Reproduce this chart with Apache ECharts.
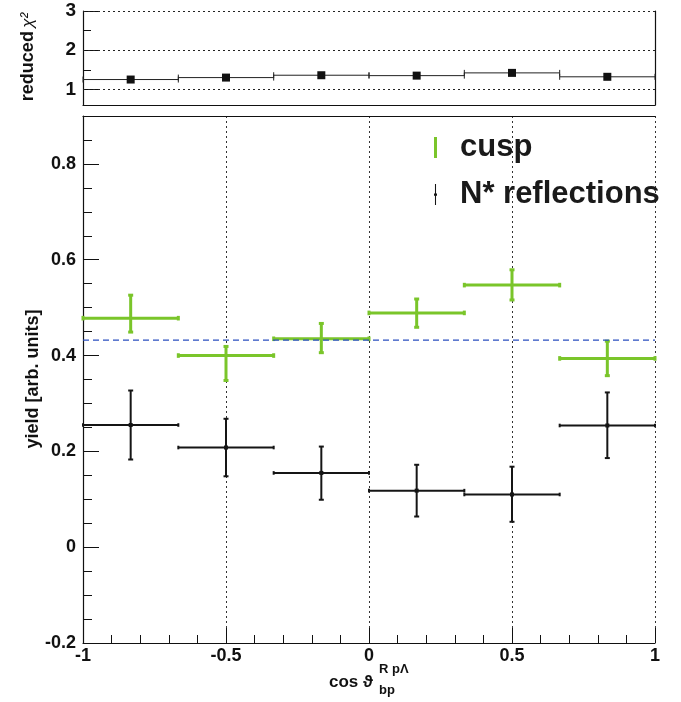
<!DOCTYPE html>
<html><head><meta charset="utf-8">
<script src="https://cdn.jsdelivr.net/npm/echarts@6/dist/echarts.min.js"></script>
<style>html,body{margin:0;padding:0;background:#fff}#c{width:681px;height:702px}</style>
</head><body><div id="c"></div>
<script>
// ---- data ----
const binLow = [-1, -0.6667, -0.3333, 0, 0.3333, 0.6667];
const binHigh = [-0.6667, -0.3333, 0, 0.3333, 0.6667, 1];
const binCenters = [-0.8333, -0.5, -0.1667, 0.1667, 0.5, 0.8333];
const chi2Values = [1.25, 1.30, 1.36, 1.35, 1.42, 1.32];
const cuspValues = [0.478, 0.400, 0.435, 0.489, 0.547, 0.394];
const cuspLow = [0.449, 0.348, 0.406, 0.459, 0.516, 0.358];
const cuspHigh = [0.526, 0.419, 0.467, 0.518, 0.579, 0.430];
const nstarValues = [0.255, 0.208, 0.155, 0.118, 0.110, 0.254];
const nstarLow = [0.183, 0.148, 0.099, 0.064, 0.053, 0.186];
const nstarHigh = [0.327, 0.268, 0.210, 0.172, 0.168, 0.323];
const meanLevel = 0.432;
const yMainTicks = [-0.2, 0, 0.2, 0.4, 0.6, 0.8];
const yMainMinorTicks = [-0.15, -0.1, -0.05, 0.05, 0.1, 0.15, 0.25, 0.3, 0.35, 0.45, 0.5, 0.55, 0.65, 0.7, 0.75, 0.85];
const yChi2Ticks = [1, 2, 3];
const yChi2MinorTicks = [1.5, 2.5];
const chi2GridLines = [1, 2, 3];

const FONT = 'Liberation Sans, Arial, Helvetica, sans-serif';
const GREEN = '#7ac52a';
const BLACK = '#151515';

const cuspData = binCenters.map((c, i) => [binLow[i], binHigh[i], c, cuspValues[i], cuspLow[i], cuspHigh[i]]);
const nstarData = binCenters.map((c, i) => [binLow[i], binHigh[i], c, nstarValues[i], nstarLow[i], nstarHigh[i]]);
const chi2Data = binCenters.map((c, i) => [binLow[i], binHigh[i], c, chi2Values[i]]);

function errRender(color, lw, marker) {
  return function (params, api) {
    const xl = api.value(0), xh = api.value(1), xc = api.value(2);
    const y = api.value(3), yl = api.value(4), yh = api.value(5);
    const pL = api.coord([xl, y]), pR = api.coord([xh, y]);
    const pT = api.coord([xc, yh]), pB = api.coord([xc, yl]), pC = api.coord([xc, y]);
    const st = { stroke: color, lineWidth: lw };
    const cap = 2.5;
    const hcap = lw / 2 + 0.8;
    const ch = [
      { type: 'line', shape: { x1: pL[0], y1: pL[1], x2: pR[0], y2: pR[1] }, style: st },
      { type: 'line', shape: { x1: pT[0], y1: pT[1], x2: pB[0], y2: pB[1] }, style: st },
      { type: 'line', shape: { x1: pT[0] - cap, y1: pT[1], x2: pT[0] + cap, y2: pT[1] }, style: st },
      { type: 'line', shape: { x1: pB[0] - cap, y1: pB[1], x2: pB[0] + cap, y2: pB[1] }, style: st },
      { type: 'line', shape: { x1: pL[0], y1: pL[1] - hcap, x2: pL[0], y2: pL[1] + hcap }, style: st },
      { type: 'line', shape: { x1: pR[0], y1: pR[1] - hcap, x2: pR[0], y2: pR[1] + hcap }, style: st }
    ];
    if (marker) ch.push({ type: 'rect', shape: { x: pC[0] - marker / 2, y: pC[1] - marker / 2, width: marker, height: marker }, style: { fill: color } });
    return { type: 'group', children: ch };
  };
}

function chi2Render(params, api) {
  const xl = api.value(0), xh = api.value(1), xc = api.value(2), y = api.value(3);
  const pL = api.coord([xl, y]), pR = api.coord([xh, y]), pC = api.coord([xc, y]);
  const st = { stroke: '#222', lineWidth: 1 };
  return { type: 'group', children: [
    { type: 'line', shape: { x1: pL[0], y1: pL[1], x2: pR[0], y2: pR[1] }, style: st },
    { type: 'line', shape: { x1: pL[0], y1: pL[1] - 3, x2: pL[0], y2: pL[1] + 3 }, style: st },
    { type: 'line', shape: { x1: pR[0], y1: pR[1] - 3, x2: pR[0], y2: pR[1] + 3 }, style: st },
    { type: 'rect', shape: { x: pC[0] - 4, y: pC[1] - 4, width: 8, height: 8 }, style: { fill: '#111' } }
  ] };
}

const labelStyle = { fontFamily: FONT, fontWeight: 'bold', fontSize: 18, color: '#111' };
const axisLine = { show: true, onZero: false, lineStyle: { color: '#111', width: 1.2 } };
const none = { show: false };
const noLine = { show: false, onZero: false };

const chart = echarts.init(document.getElementById('c'), null, { renderer: 'canvas' });
chart.setOption({
  animation: false,
  backgroundColor: '#fff',
  grid: [
    { left: 83, right: 26, top: 11, height: 94 },
    { left: 83, right: 26, top: 116, height: 527 }
  ],
  xAxis: [
    { type: 'value', gridIndex: 0, min: -1, max: 1, interval: 0.5, axisLine: axisLine, axisTick: none, axisLabel: none, splitLine: none },
    { type: 'value', gridIndex: 1, min: -1, max: 1, interval: 0.5, position: 'bottom',
      axisLine: axisLine,
      axisTick: { show: true, inside: true, length: 15, lineStyle: { color: '#111', width: 1 } },
      minorTick: { show: true, splitNumber: 5, length: 8, lineStyle: { color: '#111', width: 1 } },
      axisLabel: Object.assign({ margin: 4, showMinLabel: true, showMaxLabel: true }, labelStyle),
      splitLine: { show: true, lineStyle: { type: [2, 3], color: '#333', width: 1 } } },
    { type: 'value', gridIndex: 1, min: -1, max: 1, position: 'top', axisLine: axisLine, axisTick: none, axisLabel: none, splitLine: none }
  ],
  yAxis: [
    { type: 'value', gridIndex: 0, min: 0.6, max: 3, position: 'left',
      axisLine: axisLine,
      axisTick: { show: true, inside: true, length: 15, customValues: yChi2Ticks, lineStyle: { color: '#111' } },
      axisLabel: Object.assign({ margin: 7, customValues: yChi2Ticks }, labelStyle, { fontSize: 19 }),
      splitLine: none },
    { type: 'value', gridIndex: 0, min: 0.6, max: 3, position: 'left',
      axisLine: noLine, axisLabel: none, splitLine: none,
      axisTick: { show: true, inside: true, length: 8, customValues: yChi2MinorTicks, lineStyle: { color: '#111' } } },
    { type: 'value', gridIndex: 0, min: 0.6, max: 3, position: 'right',
      axisLine: axisLine, axisLabel: none, splitLine: none, axisTick: none },
    { type: 'value', gridIndex: 1, min: -0.2, max: 0.9, position: 'left',
      axisLine: axisLine,
      axisTick: { show: true, inside: true, length: 16, customValues: yMainTicks, lineStyle: { color: '#111' } },
      axisLabel: Object.assign({ margin: 7, customValues: yMainTicks, formatter: v => String(Math.round(v * 10) / 10) }, labelStyle),
      splitLine: none },
    { type: 'value', gridIndex: 1, min: -0.2, max: 0.9, position: 'left',
      axisLine: noLine, axisLabel: none, splitLine: none,
      axisTick: { show: true, inside: true, length: 9, customValues: yMainMinorTicks, lineStyle: { color: '#111' } } }
  ],
  legend: {
    data: [
      { name: 'cusp', icon: 'path://M0,0L4,0L4,28L0,28Z', itemStyle: { color: GREEN } },
      { name: 'N* reflections', icon: 'path://M1.3,0L2.7,0L2.7,12.5L4,12.5L4,15.5L2.7,15.5L2.7,28L1.3,28L1.3,15.5L0,15.5L0,12.5L1.3,12.5Z', itemStyle: { color: BLACK } }
    ],
    orient: 'vertical', left: 429, top: 127, itemWidth: 3, itemHeight: 28, itemGap: 16,
    selectedMode: false,
    textStyle: { fontFamily: FONT, fontWeight: 'bold', fontSize: 31, color: '#1a1a1a', padding: [0, 0, 0, 18] }
  },
  graphic: [
    { type: 'text', x: 33, y: 379, rotation: Math.PI / 2,
      style: { text: 'yield [arb. units]', font: 'bold 18px ' + FONT, fill: '#111', align: 'center', verticalAlign: 'middle' } },
    { type: 'text', x: 28, y: 57, rotation: Math.PI / 2,
      style: { text: '{a|reduced} {b|χ²}', align: 'center', verticalAlign: 'middle',
        rich: { a: { font: 'bold 18px ' + FONT, fill: '#111' }, b: { font: 'italic 17px ' + FONT, fill: '#111' } } } },
    { type: 'text', left: 329, top: 674, style: { text: 'cos ϑ', font: 'bold 17px ' + FONT, fill: '#111' } },
    { type: 'text', left: 379, top: 684, style: { text: 'bp', font: 'bold 13px ' + FONT, fill: '#111' } },
    { type: 'text', left: 379, top: 663, style: { text: 'R pΛ', font: 'bold 13px ' + FONT, fill: '#111' } }
  ],
  series: [
    { type: 'custom', name: 'chi2', xAxisIndex: 0, yAxisIndex: 0, renderItem: chi2Render, data: chi2Data,
      encode: { x: [0, 1, 2], y: 3 }, silent: true,
      markLine: { silent: true, symbol: 'none', label: { show: false },
        lineStyle: { type: [2, 3], color: '#222', width: 1.2 },
        data: chi2GridLines.map(v => ({ yAxis: v })) } },
    { type: 'line', name: 'mean', xAxisIndex: 1, yAxisIndex: 3, data: [[-1, meanLevel], [1, meanLevel]],
      symbol: 'none', lineStyle: { color: '#2a4fc0', width: 1.2, type: [6, 4] }, silent: true },
    { type: 'custom', name: 'cusp', xAxisIndex: 1, yAxisIndex: 3, renderItem: errRender(GREEN, 3, 0), data: cuspData,
      encode: { x: [0, 1, 2], y: [3, 4, 5] }, itemStyle: { color: GREEN }, silent: true },
    { type: 'custom', name: 'N* reflections', xAxisIndex: 1, yAxisIndex: 3, renderItem: errRender(BLACK, 2, 4), data: nstarData,
      encode: { x: [0, 1, 2], y: [3, 4, 5] }, itemStyle: { color: BLACK }, silent: true }
  ]
});
</script></body></html>
